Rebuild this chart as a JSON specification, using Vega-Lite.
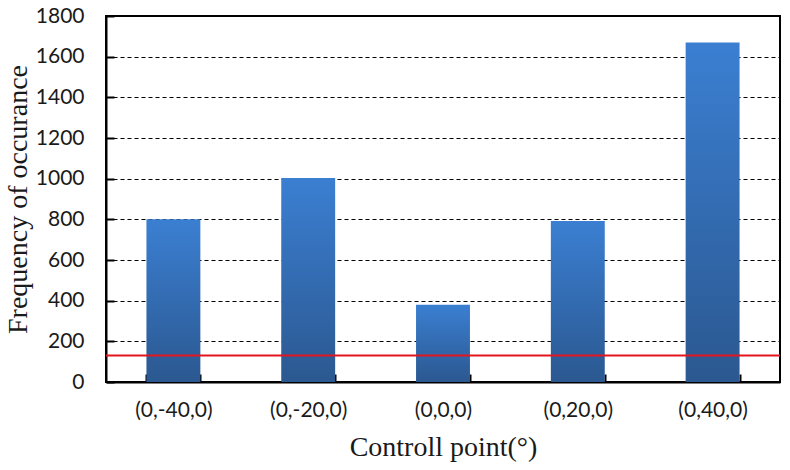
{
  "$schema": "https://vega.github.io/schema/vega-lite/v6.json",
  "width": 674,
  "height": 366,
  "autosize": {"type": "none"},
  "padding": {"left": 106, "top": 16, "right": 10, "bottom": 88},
  "background": "white",
  "config": {
    "view": {"stroke": "black", "strokeWidth": 2},
    "axis": {"labelColor": "#1a1a1a", "titleColor": "#1a1a1a", "labelFont": "Lato", "titleFont": "Liberation Serif", "titleFontWeight": "normal"}
  },
  "datasets": {
    "bars": [
      {"point": "(0,-40,0)", "frequency": 800},
      {"point": "(0,-20,0)", "frequency": 1003},
      {"point": "(0,0,0)", "frequency": 380},
      {"point": "(0,20,0)", "frequency": 792},
      {"point": "(0,40,0)", "frequency": 1670}
    ],
    "threshold": [{"level": 130}]
  },
  "layer": [
    {
      "data": {"name": "bars"},
      "mark": {
        "type": "bar",
        "color": {
          "gradient": "linear", "x1": 0, "y1": 0, "x2": 0, "y2": 1,
          "stops": [{"offset": 0, "color": "#3b7fd2"}, {"offset": 1, "color": "#2b5890"}]
        }
      },
      "encoding": {
        "x": {
          "field": "point", "type": "nominal", "sort": null,
          "scale": {"paddingInner": 0.6, "paddingOuter": 0.3},
          "axis": {
            "title": "Controll point(°)", "titleFontSize": 28, "titlePadding": 13,
            "labelAngle": 0, "labelFontSize": 21, "labelPadding": 25,
            "tickBand": "extent", "tickSize": -8, "tickColor": "black", "tickWidth": 2,
            "domainColor": "black", "domainWidth": 2
          }
        },
        "y": {
          "field": "frequency", "type": "quantitative",
          "scale": {"domain": [0, 1800], "nice": false},
          "axis": {
            "title": "Frequency of occurance", "titleFontSize": 28, "titlePadding": 3,
            "values": [0, 200, 400, 600, 800, 1000, 1200, 1400, 1600, 1800],
            "format": "d",
            "labelFontSize": 21, "labelPadding": 30,
            "tickSize": -8, "tickColor": "black", "tickWidth": 2,
            "domainColor": "black", "domainWidth": 2,
            "grid": true, "gridColor": "black", "gridDash": [4, 3], "gridWidth": 1
          }
        }
      }
    },
    {
      "data": {"name": "threshold"},
      "mark": {"type": "rule", "color": "#e3151f", "strokeWidth": 2},
      "encoding": {"y": {"field": "level", "type": "quantitative"}}
    }
  ]
}
